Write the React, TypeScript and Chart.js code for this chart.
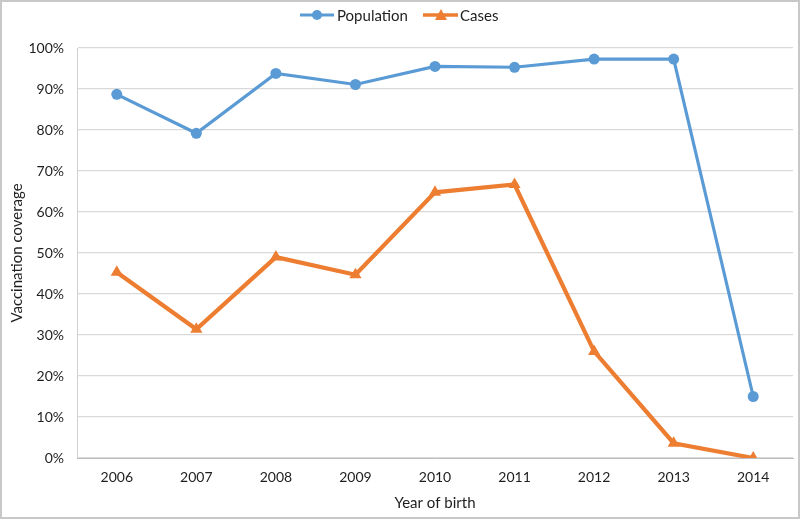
import React, { useEffect, useRef } from "react";
import { Chart, registerables } from "chart.js";

Chart.register(...registerables);

const years = ["2006", "2007", "2008", "2009", "2010", "2011", "2012", "2013", "2014"];
const populationCoverage = [88.7, 79.2, 93.8, 91.1, 95.5, 95.3, 97.3, 97.3, 15.0];
const casesCoverage = [45.3, 31.4, 49.0, 44.7, 64.8, 66.7, 26.0, 3.6, 0];
const seriesNames = ["Population", "Cases"];
const yTitle = "Vaccination coverage";
const xTitle = "Year of birth";

const BLUE = "#5b9bd5";
const ORANGE = "#ed7d31";
const FONT = "Lato";
const TEXT = "#1e1e1e";

const legendAndFrame = {
  id: "legendAndFrame",
  afterDraw(chart: any) {
    const ctx = chart.ctx as CanvasRenderingContext2D;
    ctx.save();
    ctx.strokeStyle = "#c8c8c8";
    ctx.lineWidth = 2;
    ctx.strokeRect(1, 1, chart.width - 2, chart.height - 2);
    const y = 15;
    ctx.font = `15px ${FONT}`;
    ctx.textBaseline = "middle";
    // Population
    ctx.strokeStyle = BLUE;
    ctx.lineWidth = 3;
    ctx.beginPath();
    ctx.moveTo(300, y);
    ctx.lineTo(334, y);
    ctx.stroke();
    ctx.fillStyle = BLUE;
    ctx.beginPath();
    ctx.arc(317, y, 5, 0, Math.PI * 2);
    ctx.fill();
    ctx.fillStyle = TEXT;
    ctx.fillText(seriesNames[0], 337, y + 1);
    // Cases
    ctx.strokeStyle = ORANGE;
    ctx.lineWidth = 3.5;
    ctx.beginPath();
    ctx.moveTo(423, y);
    ctx.lineTo(458, y);
    ctx.stroke();
    ctx.fillStyle = ORANGE;
    ctx.beginPath();
    ctx.moveTo(441, y - 6);
    ctx.lineTo(447, y + 5);
    ctx.lineTo(435, y + 5);
    ctx.closePath();
    ctx.fill();
    ctx.fillStyle = TEXT;
    ctx.fillText(seriesNames[1], 460, y + 1);
    ctx.restore();
  },
};

export default function App() {
  const ref = useRef<HTMLCanvasElement | null>(null);
  useEffect(() => {
    document.body.style.margin = "0";
    const chart = new Chart(ref.current as HTMLCanvasElement, {
      type: "line",
      data: {
        labels: years,
        datasets: [
          {
            label: seriesNames[0],
            data: populationCoverage,
            borderColor: BLUE,
            backgroundColor: BLUE,
            borderWidth: 3.2,
            pointStyle: "circle",
            pointRadius: 5.5,
            pointBorderWidth: 0,
            tension: 0,
          },
          {
            label: seriesNames[1],
            data: casesCoverage,
            borderColor: ORANGE,
            backgroundColor: ORANGE,
            borderWidth: 4.2,
            pointStyle: "triangle",
            pointRadius: 7,
            pointBorderWidth: 0,
            tension: 0,
          },
        ],
      },
      options: {
        animation: false,
        responsive: false,
        maintainAspectRatio: false,
        layout: { padding: { left: 0, right: 6, top: 48, bottom: 0 } },
        plugins: { legend: { display: false }, tooltip: { enabled: false } },
        scales: {
          x: {
            offset: true,
            grid: { display: false, drawTicks: false },
            border: { display: true, color: "#bfbfbf", width: 1 },
            ticks: { color: TEXT, font: { family: FONT, size: 14 }, padding: 11, maxRotation: 0 },
            title: {
              display: true,
              text: xTitle,
              color: TEXT,
              font: { family: FONT, size: 15 },
              padding: { top: 0, bottom: 7 },
            },
            afterFit(scale: any) {
              scale.height = 61;
            },
          },
          y: {
            min: 0,
            max: 100,
            grid: { color: "#d9d9d9", drawTicks: false, lineWidth: 1.2 },
            border: { display: true, color: "#d0d0d0", width: 1 },
            ticks: {
              stepSize: 10,
              color: TEXT,
              font: { family: FONT, size: 14 },
              padding: 13,
              callback: (v: any) => `${v}%`,
            },
            title: {
              display: true,
              text: yTitle,
              color: TEXT,
              font: { family: FONT, size: 15 },
              padding: { top: 8, bottom: 0 },
            },
            afterFit(scale: any) {
              scale.width = 77;
            },
          },
        },
      },
      plugins: [legendAndFrame],
    });
    return () => chart.destroy();
  }, []);
  return (
    <div style={{ width: 800, height: 519, position: "relative", background: "#fff" }}>
      <canvas ref={ref} width={800} height={519} style={{ display: "block" }} />
    </div>
  );
}
